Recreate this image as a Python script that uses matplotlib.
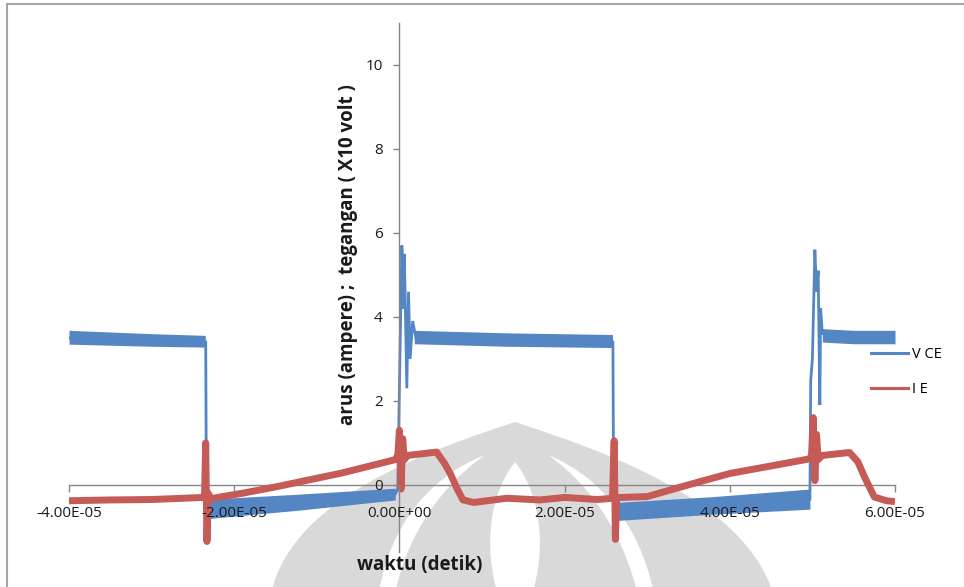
import matplotlib
matplotlib.use("Agg")
import matplotlib.pyplot as plt
import numpy as np
from matplotlib.ticker import FuncFormatter
from matplotlib.patches import Rectangle, PathPatch
from matplotlib.path import Path
from matplotlib.lines import Line2D

plt.rcParams['font.family'] = ['Open Sans', 'DejaVu Sans']

T_UNIT = 1e-5   # time values below are in units of 1E-05 s

# V CE trace (x10 volt): drops and switching spikes
vce_t = [-4.0, -3.2, -2.345, -2.335, -2.31, -2.2, -1.2, -0.05, -0.02, 0.0, 0.03, 0.05,
         0.06, 0.09, 0.11, 0.13, 0.16, 0.2, 1.2, 2.585, 2.595, 2.62, 3.8, 4.97, 4.98,
         5.0, 5.03, 5.05, 5.07, 5.09, 5.10, 5.12, 5.5, 6.0]
vce_v = [3.5, 3.42, 3.4, -1.0, -0.5, -0.55, -0.42, -0.22, -0.1, 2.3, 5.7, 4.2,
         5.5, 2.3, 4.6, 3.0, 3.9, 3.5, 3.45, 3.4, -0.9, -0.6, -0.5, -0.35, 2.5,
         3.0, 5.6, 4.6, 5.1, 1.9, 4.2, 3.6, 3.5, 3.5]

# V CE noise envelope on the flat and ramp sections
vce_seg1_t = [-4.0, -3.0, -2.35]
vce_seg1_lo = [3.35, 3.3, 3.28]
vce_seg1_hi = [3.68, 3.6, 3.56]
vce_seg2_t = [-2.30, -1.2, -0.05]
vce_seg2_lo = [-0.8, -0.6, -0.36]
vce_seg2_hi = [-0.34, -0.22, -0.08]
vce_seg3_t = [0.18, 1.3, 2.58]
vce_seg3_lo = [3.36, 3.3, 3.27]
vce_seg3_hi = [3.68, 3.62, 3.58]
vce_seg4_t = [2.62, 3.8, 4.97]
vce_seg4_lo = [-0.85, -0.7, -0.58]
vce_seg4_hi = [-0.42, -0.28, -0.1]
vce_seg5_t = [5.12, 5.5, 6.0]
vce_seg5_lo = [3.4, 3.36, 3.36]
vce_seg5_hi = [3.72, 3.68, 3.68]

# I E trace (ampere)
ie_t = [-4.0, -3.5, -3.0, -2.5, -2.36, -2.345, -2.33, -2.315, -2.28, -2.2, -1.9, -1.5,
        -0.7, -0.05, -0.02, 0.0, 0.02, 0.04, 0.06, 0.1, 0.45, 0.55, 0.62, 0.7,
        0.77, 0.9, 1.3, 1.7, 2.0, 2.4, 2.58, 2.6, 2.615, 2.63, 2.7, 3.0, 3.5,
        4.0, 4.5, 4.97, 4.99, 5.01, 5.03, 5.05, 5.07, 5.12, 5.45, 5.55, 5.63,
        5.75, 5.9, 6.0]
ie_v = [-0.38, -0.36, -0.35, -0.31, -0.3, 1.0, -1.35, -0.2, -0.33, -0.3, -0.2, -0.05,
        0.28, 0.6, 0.7, 1.3, -0.1, 1.1, 0.6, 0.7, 0.78, 0.5, 0.25, -0.1,
        -0.36, -0.42, -0.32, -0.36, -0.3, -0.35, -0.32, 1.05, -1.3, -0.3, -0.3, -0.28, 0.0,
        0.27, 0.45, 0.62, 0.7, 1.6, 0.1, 1.2, 0.6, 0.7, 0.77, 0.55, 0.19,
        -0.29, -0.38, -0.4]

x_ticks = [-4.0, -2.0, 0.0, 2.0, 4.0, 6.0]
y_ticks = [0, 2, 4, 6, 8, 10]

blue = '#5586c4'
red = '#c55a57'
axis_gray = '#868686'

W, H = 964, 587
fig = plt.figure(figsize=(W / 100, H / 100), dpi=100)

def px(x, y):
    return (x / W, 1 - y / H)

# faint logo watermark behind the plot (dome with three white strokes)
def shape(segments, color):
    verts, codes = [], []
    for code, pts in segments:
        for p in pts:
            verts.append(px(*p))
            codes.append(code)
    verts.append(verts[0])
    codes.append(Path.CLOSEPOLY)
    fig.patches.append(PathPatch(Path(verts, codes), transform=fig.transFigure,
                                 facecolor=color, edgecolor='none', zorder=0))

M, C, L = Path.MOVETO, Path.CURVE4, Path.LINETO
gray = '#d9d9d9'
shape([(M, [(515, 422)]),
       (C, [(600, 450), (750, 500), (775, 600)]),
       (L, [(270, 600)]),
       (C, [(285, 500), (430, 450), (515, 422)])], gray)
shape([(M, [(515, 462)]),
       (C, [(545, 500), (545, 560), (530, 600)]),
       (L, [(500, 600)]),
       (C, [(485, 560), (485, 500), (515, 462)])], 'white')
shape([(M, [(485, 455)]),
       (C, [(420, 480), (385, 540), (378, 600)]),
       (L, [(394, 600)]),
       (C, [(403, 545), (435, 490), (485, 455)])], 'white')
shape([(M, [(548, 455)]),
       (C, [(610, 480), (645, 540), (655, 600)]),
       (L, [(639, 600)]),
       (C, [(627, 545), (598, 490), (548, 455)])], 'white')

# chart frame
fig.patches.append(Rectangle(px(7, 700), 2, 700 / H - 4 / H, transform=fig.transFigure,
                             facecolor='none', edgecolor='#a6a6a6', lw=1.5, zorder=1))

ax = fig.add_axes([69 / W, (H - 552) / H, 826 / W, 529 / H])
ax.set_zorder(2)
ax.patch.set_alpha(0)

for t, lo, hi in [(vce_seg1_t, vce_seg1_lo, vce_seg1_hi),
                  (vce_seg2_t, vce_seg2_lo, vce_seg2_hi),
                  (vce_seg3_t, vce_seg3_lo, vce_seg3_hi),
                  (vce_seg4_t, vce_seg4_lo, vce_seg4_hi),
                  (vce_seg5_t, vce_seg5_lo, vce_seg5_hi)]:
    ax.fill_between(np.array(t) * T_UNIT, lo, hi, color=blue, lw=0, zorder=2)
ax.plot(np.array(vce_t) * T_UNIT, vce_v, color=blue, lw=2.0, zorder=2,
        solid_joinstyle='miter')
ax.plot(np.array(ie_t) * T_UNIT, ie_v, color=red, lw=5, zorder=3,
        solid_capstyle='butt')

ax.set_xlim(-4e-5, 6e-5)
ax.set_ylim(-1.6, 11)

for s in ['top', 'right']:
    ax.spines[s].set_visible(False)
ax.spines['left'].set_position(('data', 0))
ax.spines['bottom'].set_position(('data', 0))
for s in ['left', 'bottom']:
    ax.spines[s].set_color(axis_gray)
    ax.spines[s].set_linewidth(1.0)

ax.set_xticks(np.array(x_ticks) * T_UNIT)
ax.set_yticks(y_ticks)
ax.xaxis.set_major_formatter(FuncFormatter(lambda v, p: f"{v:.2E}"))
ax.tick_params(axis='x', direction='out', length=5, width=1, color=axis_gray,
               pad=10, labelsize=11, labelcolor='#1a1a1a')
ax.tick_params(axis='y', direction='out', length=4, width=1, color=axis_gray,
               pad=8, labelsize=11, labelcolor='#1a1a1a')
# tick labels sit on top of the traces
ax.xaxis.set_zorder(4)
ax.yaxis.set_zorder(4)

fig.text(*px(348, 255), 'arus (ampere) ;  tegangan ( X10 volt )', rotation=90,
         ha='center', va='center', fontsize=13.5, fontweight='bold', color='#1a1a1a')
fig.text(*px(420, 565), 'waktu (detik)', ha='center', va='center',
         fontsize=13.5, fontweight='bold', color='#1a1a1a')

handles = [Line2D([], [], color=blue, lw=2.2), Line2D([], [], color=red, lw=2.2)]
fig.legend(handles, ['V CE', 'I E'], loc='upper left', bbox_to_anchor=px(858, 334),
           frameon=False, fontsize=10.5, handlelength=2.5, labelspacing=1.35,
           handletextpad=0.3)

fig.savefig('out.png', dpi=100)
